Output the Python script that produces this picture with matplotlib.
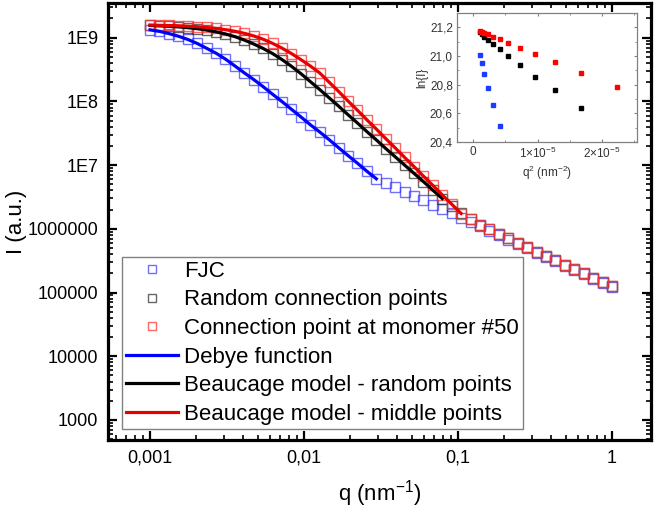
import numpy as np
import matplotlib.pyplot as plt
from matplotlib.ticker import FixedLocator, FixedFormatter, LogLocator, NullFormatter, MultipleLocator

plt.rcParams['font.family'] = ['Liberation Sans', 'DejaVu Sans']
plt.rcParams['mathtext.fontset'] = 'custom'
plt.rcParams['mathtext.rm'] = 'Liberation Sans'
plt.rcParams['mathtext.it'] = 'Liberation Sans:italic'

# scattering vector grid (nm^-1), 50 log-spaced points
q = np.logspace(-3, 0, 50)

# log10 of intensity
fjc_log = [9.123, 9.099, 9.064, 9.023, 8.972, 8.909, 8.833, 8.756, 8.663, 8.556,
           8.447, 8.342, 8.230, 8.111, 7.996, 7.875, 7.756, 7.633, 7.519, 7.398,
           7.272, 7.149, 7.029, 6.903, 6.785, 6.720, 6.652, 6.583, 6.515, 6.447,
           6.378, 6.310, 6.242, 6.173, 6.105, 6.037, 5.968, 5.900, 5.832, 5.763,
           5.695, 5.627, 5.558, 5.490, 5.422, 5.353, 5.285, 5.217, 5.148, 5.080]
random_log = [9.192, 9.186, 9.178, 9.169, 9.157, 9.141, 9.119, 9.092, 9.058, 9.016,
              8.962, 8.900, 8.830, 8.750, 8.655, 8.550, 8.435, 8.310, 8.185, 8.055,
              7.925, 7.790, 7.660, 7.525, 7.395, 7.260, 7.130, 7.000, 6.870, 6.740,
              6.605, 6.475, 6.360, 6.255, 6.155, 6.065, 5.993, 5.923, 5.853, 5.783,
              5.713, 5.643, 5.577, 5.507, 5.439, 5.370, 5.302, 5.234, 5.165, 5.097]
middle_log = [9.197, 9.194, 9.191, 9.187, 9.180, 9.172, 9.160, 9.144, 9.125, 9.100,
              9.068, 9.027, 8.975, 8.910, 8.835, 8.750, 8.655, 8.555, 8.445, 8.300,
              8.155, 8.005, 7.860, 7.710, 7.565, 7.415, 7.270, 7.120, 6.975, 6.825,
              6.680, 6.530, 6.385, 6.240, 6.150, 6.060, 5.990, 5.920, 5.850, 5.780,
              5.710, 5.640, 5.575, 5.505, 5.437, 5.368, 5.300, 5.232, 5.163, 5.095]

# how many points the model curves cover
n_debye = 25
n_random = 32
n_middle = 34

# inset: ln(I) vs q^2 for the low-q points
inset_fjc_ln = [21.007, 20.951, 20.871, 20.776, 20.659, 20.515]
inset_random_ln = [21.165, 21.151, 21.134, 21.113, 21.085, 21.047, 20.998, 20.936,
                   20.856, 20.760, 20.635]
inset_middle_ln = [21.176, 21.169, 21.162, 21.153, 21.136, 21.118, 21.092, 21.054,
                   21.012, 20.955, 20.880, 20.786]

x_ticks = [0.001, 0.01, 0.1, 1]
x_labels = ['0,001', '0,01', '0,1', '1']
y_ticks = [1e3, 1e4, 1e5, 1e6, 1e7, 1e8, 1e9]
y_labels = ['1000', '10000', '100000', '1000000', '1E7', '1E8', '1E9']

fjc = 10 ** np.array(fjc_log)
rnd = 10 ** np.array(random_log)
mid = 10 ** np.array(middle_log)

fig = plt.figure(figsize=(6.54, 5.08), dpi=100)
ax = fig.add_axes([0.1651, 0.1339, 0.8303, 0.8602])

mk = dict(marker='s', ms=7.3, mfc='none', mew=1.0, ls='none')
ax.plot(q, fjc, mec=(0.2, 0.2, 1.0, 0.7), label='FJC', **mk)
ax.plot(q, rnd, mec=(0.2, 0.2, 0.2, 0.75), label='Random connection points', **mk)
ax.plot(q, mid, mec=(1.0, 0.2, 0.2, 0.75), label='Connection point at monomer #50', **mk)
ax.plot(q[:n_debye], fjc[:n_debye], color='#0000ff', lw=2.3, label='Debye function')
ax.plot(q[:n_random], rnd[:n_random], color='black', lw=2.3,
        label='Beaucage model - random points')
ax.plot(q[:n_middle], mid[:n_middle], color='#e60000', lw=2.3,
        label='Beaucage model - middle points')

ax.set_xscale('log')
ax.set_yscale('log')
ax.set_xlim(5.33e-4, 1.79)
ax.set_ylim(485, 3.5e9)

ax.xaxis.set_major_locator(FixedLocator(x_ticks))
ax.xaxis.set_major_formatter(FixedFormatter(x_labels))
ax.yaxis.set_major_locator(FixedLocator(y_ticks))
ax.yaxis.set_major_formatter(FixedFormatter(y_labels))
ax.xaxis.set_minor_locator(LogLocator(base=10, subs=np.arange(2, 10)))
ax.yaxis.set_minor_locator(LogLocator(base=10, subs=np.arange(2, 10), numticks=20))
ax.xaxis.set_minor_formatter(NullFormatter())
ax.yaxis.set_minor_formatter(NullFormatter())

ax.tick_params(which='both', direction='in', top=True, right=True, labelsize=13)
ax.tick_params(which='major', length=6.5, width=1.6, pad=7)
ax.tick_params(which='minor', length=3.5, width=1.2)
for s in ax.spines.values():
    s.set_linewidth(2.3)

ax.set_xlabel('q (nm$^{\\mathrm{-1}}$)', fontsize=16, labelpad=8)
ax.set_ylabel('I (a.u.)', fontsize=16, labelpad=0.5)

ax.legend(loc='upper left', bbox_to_anchor=(0.026, 0.419), fontsize=16,
          frameon=True, fancybox=False, edgecolor='#808080', framealpha=1,
          borderpad=0.18, labelspacing=0.34, handlelength=2.35, handletextpad=0.25,
          borderaxespad=0, markerscale=0.7, numpoints=1)

# inset
ins = fig.add_axes([0.6988, 0.7205, 0.2752, 0.2539])
ins.plot(q[:len(inset_fjc_ln)] ** 2, inset_fjc_ln, 's', color='#1a3cff', ms=2.3)
ins.plot(q[:len(inset_random_ln)] ** 2, inset_random_ln, 's', color='black', ms=2.3)
ins.plot(q[:len(inset_middle_ln)] ** 2, inset_middle_ln, 's', color='#ff0000', ms=2.3)
ins.set_xlim(-0.25e-5, 2.54e-5)
ins.set_ylim(20.4, 21.3)
ins.xaxis.set_major_locator(FixedLocator([0, 1e-5, 2e-5]))
ins.xaxis.set_major_formatter(FixedFormatter(['0', r'$1{\times}10^{-5}$', r'$2{\times}10^{-5}$']))
ins.xaxis.set_minor_locator(MultipleLocator(0.5e-5))
ins.yaxis.set_major_locator(FixedLocator([20.4, 20.6, 20.8, 21.0, 21.2]))
ins.yaxis.set_major_formatter(FixedFormatter(['20,4', '20,6', '20,8', '21,0', '21,2']))
ins.yaxis.set_minor_locator(MultipleLocator(0.1))
ins.tick_params(which='both', direction='in', top=True, right=True, labelsize=8.5,
                colors='#808080', labelcolor='#333333')
ins.tick_params(which='major', length=2.5, width=0.8, pad=3)
ins.tick_params(which='minor', length=1.5, width=0.6)
for s in ins.spines.values():
    s.set_linewidth(0.9)
    s.set_edgecolor('#808080')
ins.set_xlabel('q$^2$ (nm$^{-2}$)', fontsize=8.5, labelpad=2, color='#333333')
ins.set_ylabel('ln{I}', fontsize=8.5, labelpad=1, color='#333333')

fig.savefig('out.png', dpi=100)
